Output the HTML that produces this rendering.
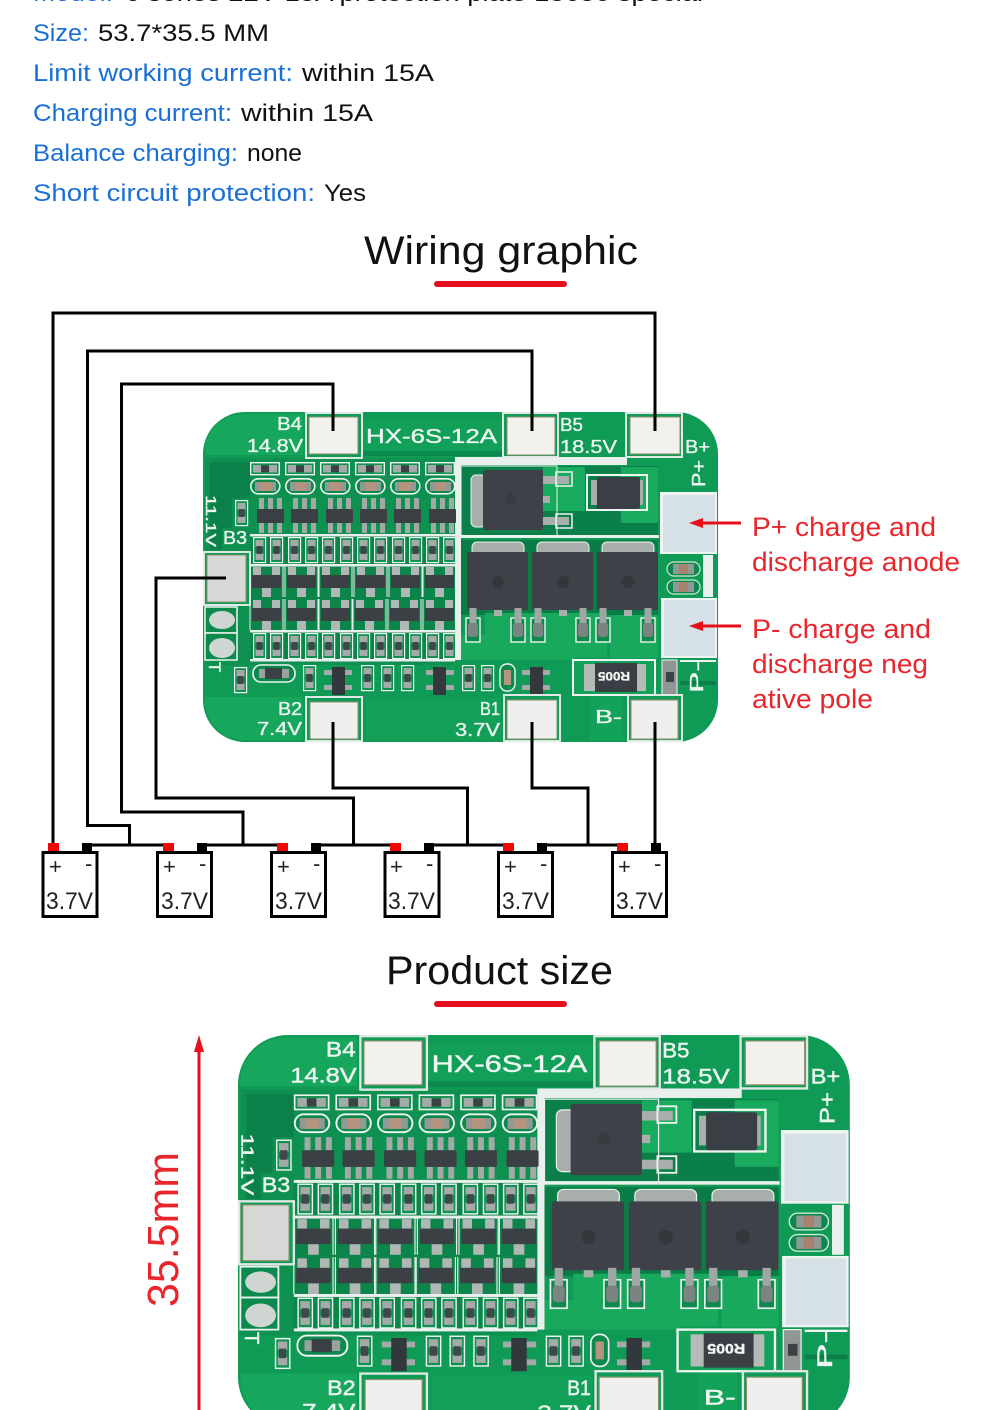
<!DOCTYPE html>
<html><head><meta charset="utf-8"><style>
html,body{margin:0;padding:0;background:#fff}
svg{display:block}
.t{font-family:"Liberation Sans",sans-serif}
.l{font-family:"Liberation Sans",sans-serif;font-size:24px}
.b{fill:#1a6fd6}.k{fill:#111}
.r{font-family:"Liberation Sans",sans-serif;font-size:27px;fill:#e8262c}
.p{font-family:"Liberation Sans",sans-serif;fill:#eef6f1;font-size:18px;stroke:#eef6f1;stroke-width:.35px}
.v{font-family:"Liberation Sans",sans-serif;font-size:24px;fill:#222}
</style></head><body>
<svg width="1000" height="1410" viewBox="0 0 1000 1410" xmlns="http://www.w3.org/2000/svg">
<defs>
<g id="c1"><rect x="0.7" y="0.7" width="28.6" height="12" fill="#0e9150" stroke="#eef4f0" stroke-width="1.4"/><rect x="3" y="3" width="8" height="7.5" fill="#a4aaa8"/><rect x="19" y="3" width="8" height="7.5" fill="#a4aaa8"/><rect x="11" y="3.5" width="8" height="6.5" fill="#3c4144"/></g>
<g id="c2"><rect x="0.8" y="0.8" width="29" height="15" rx="7.5" fill="#0c8a4e" stroke="#eef4f0" stroke-width="1.6"/><rect x="5" y="4" width="21" height="9" fill="#8f9a96"/><rect x="10" y="4" width="11" height="9" fill="#b4947f"/></g>
<g id="c3"><g fill="#a2a9a7"><rect x="2" y="0" width="5" height="11"/><rect x="11" y="0" width="5" height="11"/><rect x="20" y="0" width="5" height="11"/><rect x="2" y="25" width="5" height="10"/><rect x="11" y="25" width="5" height="10"/><rect x="20" y="25" width="5" height="10"/></g><rect x="0" y="11" width="27" height="14" rx="1" fill="#3b4045"/></g>
<g id="c5"><g fill="#b1b7b5"><rect x="1" y="0" width="8" height="8"/><rect x="20" y="0" width="8" height="8"/><rect x="10" y="21" width="9" height="9"/></g><rect x="0" y="8" width="29" height="13" rx="1" fill="#3b4045"/><path d="M-2 -1V30M31 -1V30" stroke="#e8f0ec" stroke-width="1" fill="none"/></g>
<g id="rv"><rect x="0.6" y="0.6" width="12" height="25" fill="#0e9150" stroke="#eef4f0" stroke-width="1.2"/><rect x="2.5" y="3" width="8" height="7" fill="#a4aaa8"/><rect x="2.5" y="16" width="8" height="7" fill="#a4aaa8"/><rect x="3.5" y="9" width="6" height="8" fill="#40464a"/></g>
<g id="r12"><use href="#rv" x="253"/><use href="#rv" x="270"/><use href="#rv" x="288"/><use href="#rv" x="305"/><use href="#rv" x="322"/><use href="#rv" x="340"/><use href="#rv" x="357"/><use href="#rv" x="374"/><use href="#rv" x="392"/><use href="#rv" x="409"/><use href="#rv" x="426"/><use href="#rv" x="443"/></g>
<g id="mos"><rect x="5" y="-10" width="52" height="14" rx="5" fill="#a8aeac" stroke="#eaf0ec" stroke-width="1"/><rect x="0" y="0" width="61" height="58" rx="2" fill="#3e4248"/><circle cx="31" cy="30" r="6" fill="#33373c"/><rect x="27" y="58" width="8" height="6" fill="#a8aeac"/></g>
<g id="lead"><rect x="-7" y="10" width="14" height="24" fill="#0c8a4e" stroke="#eef4f0" stroke-width="1.4"/><rect x="-3.500" y="0" width="7" height="26" fill="#a0a6a4"/><rect x="-5" y="15" width="10" height="14" rx="3" fill="#7c8481"/></g>
<g id="art">
<rect x="203" y="412" width="515" height="330" rx="42" fill="#0f9a55"/>
<path d="M205 455V452C205 428 225 414 245 414H303V455Z" fill="#17a75c"/>
<path d="M205 697H303V740H245C225 740 205 725 205 700Z" fill="#17a75c"/>
<rect x="205" y="458" width="250" height="207" fill="#0e9150"/>
<path d="M210 462H250V498H232V528H222V550H210Z" fill="#0b8048"/>
<rect x="250" y="536" width="205" height="125" fill="#0b8549"/>
<rect x="460" y="466" width="198" height="72" fill="#0b7f49"/>
<rect x="543" y="467" width="42" height="44" fill="#19ab5d"/>
<rect x="621" y="467" width="37" height="56" fill="#19ab5d"/>
<rect x="460" y="540" width="198" height="75" fill="#0a7d47"/>
<path d="M485 613H607V657H575V660H460V635H485Z" fill="#18a95c"/>
<path d="M610 615H658V658H610Z" fill="#18a95c"/>
<rect x="366" y="698" width="135" height="42" fill="#12a058"/>
<rect x="360" y="420" width="142" height="30" fill="#12a058"/>
<rect x="360" y="451" width="142" height="5" fill="#0c8a4e"/>
<rect x="590" y="695" width="33" height="45" fill="#13a259"/>
<g fill="#e9efec">
<rect x="455" y="457" width="172" height="8"/>
<rect x="455" y="457" width="6" height="203"/>
<rect x="461" y="535" width="198" height="3"/>
<rect x="250" y="534" width="205" height="2.500"/>
<rect x="250" y="564" width="205" height="2.500"/>
<rect x="250" y="630" width="205" height="2.500"/>
<rect x="250" y="659" width="205" height="2.500"/>
</g>
<use href="#c1" x="250" y="462"/><use href="#c1" x="285" y="462"/><use href="#c1" x="320" y="462"/><use href="#c1" x="355" y="462"/><use href="#c1" x="390" y="462"/><use href="#c1" x="425" y="462"/>
<use href="#c2" x="250" y="478"/><use href="#c2" x="285" y="478"/><use href="#c2" x="320" y="478"/><use href="#c2" x="355" y="478"/><use href="#c2" x="390" y="478"/><use href="#c2" x="425" y="478"/>
<use href="#c3" x="257" y="498"/><use href="#c3" x="291" y="498"/><use href="#c3" x="326" y="498"/><use href="#c3" x="360" y="498"/><use href="#c3" x="394" y="498"/><use href="#c3" x="429" y="498"/>
<use href="#rv" x="235" y="498" transform="translate(0 2)"/>
<use href="#r12" y="537"/><use href="#r12" y="633"/>
<use href="#c5" x="252" y="567"/><use href="#c5" x="287" y="567"/><use href="#c5" x="321" y="567"/><use href="#c5" x="356" y="567"/><use href="#c5" x="391" y="567"/><use href="#c5" x="425" y="567"/>
<use href="#c5" x="252" y="600"/><use href="#c5" x="287" y="600"/><use href="#c5" x="321" y="600"/><use href="#c5" x="355" y="600"/><use href="#c5" x="390" y="600"/><use href="#c5" x="425" y="600"/>
<rect x="205" y="607" width="32" height="26" fill="#0c8a4e" stroke="#eef4f0" stroke-width="1.5"/>
<rect x="205" y="633" width="32" height="27" fill="#0c8a4e" stroke="#eef4f0" stroke-width="1.5"/>
<ellipse cx="222" cy="620" rx="13" ry="9" fill="#cfd6d2"/>
<ellipse cx="222" cy="648" rx="13" ry="10" fill="#cfd6d2"/>
<use href="#rv" x="234" y="665" transform="translate(0 2)"/>
<rect x="253" y="665" width="42" height="17" rx="8" fill="#0c8a4e" stroke="#eef4f0" stroke-width="1.6"/>
<rect x="259" y="669" width="30" height="9" fill="#9aa19f"/><rect x="265" y="668" width="17" height="11" fill="#3b4045"/>
<use href="#rv" x="303" y="665"/><use href="#rv" x="361" y="665"/><use href="#rv" x="381" y="665"/><use href="#rv" x="401" y="665"/><use href="#rv" x="462" y="665"/><use href="#rv" x="481" y="665"/>
<rect x="500" y="664" width="15" height="27" rx="7" fill="#0c8a4e" stroke="#eef4f0" stroke-width="1.4"/><rect x="504" y="670" width="7" height="15" fill="#b4947f"/>
<g fill="#a4aaa8"><rect x="324" y="670" width="28" height="5"/><rect x="324" y="685" width="28" height="5"/><rect x="426" y="670" width="28" height="5"/><rect x="426" y="685" width="28" height="5"/><rect x="522" y="670" width="28" height="5"/><rect x="522" y="685" width="28" height="5"/></g>
<g fill="#33383d"><rect x="332" y="667" width="13" height="28"/><rect x="433" y="667" width="13" height="28"/><rect x="530" y="667" width="13" height="28"/></g>
<rect x="461" y="466" width="96" height="70" fill="none" stroke="#eef4f0" stroke-width="1"/>
<rect x="471" y="475" width="16" height="52" rx="5" fill="#a8aeac" stroke="#eaf0ec"/>
<rect x="542" y="476" width="27" height="8" fill="#a8aeac"/><rect x="542" y="517" width="27" height="8" fill="#a8aeac"/><rect x="542" y="496" width="8" height="7" fill="#a8aeac"/>
<rect x="556" y="472" width="16" height="14" fill="none" stroke="#eef4f0" stroke-width="1.5"/><rect x="556" y="514" width="16" height="14" fill="none" stroke="#eef4f0" stroke-width="1.5"/>
<rect x="483" y="470" width="60" height="60" rx="2" fill="#3e4248"/><circle cx="511" cy="499" r="5.500" fill="#383c41"/>
<rect x="587" y="475" width="60" height="35" fill="none" stroke="#eef4f0" stroke-width="2"/>
<rect x="591" y="480" width="8" height="25" fill="#a8aeac"/><rect x="635" y="480" width="8" height="25" fill="#a8aeac"/>
<rect x="597" y="477" width="43" height="32" rx="2" fill="#3a3e45"/>
<use href="#mos" x="467" y="552"/><use href="#mos" x="532" y="552"/><use href="#mos" x="597" y="552"/>
<use href="#lead" x="473" y="608"/><use href="#lead" x="518" y="608"/><use href="#lead" x="538" y="608"/><use href="#lead" x="583" y="608"/><use href="#lead" x="603" y="608"/><use href="#lead" x="648" y="608"/>
<rect x="703" y="555" width="10" height="42" fill="#e9efec"/>
<rect x="667" y="562" width="33" height="14" rx="7" fill="#0c8a4e" stroke="#cfe6d8" stroke-width="1.2"/><rect x="673" y="564" width="21" height="10" fill="#8f9a96"/><rect x="679" y="564" width="9" height="10" fill="#a8826e"/>
<rect x="667" y="580" width="33" height="14" rx="7" fill="#0c8a4e" stroke="#cfe6d8" stroke-width="1.2"/><rect x="673" y="582" width="21" height="10" fill="#8f9a96"/><rect x="679" y="582" width="9" height="10" fill="#a8826e"/>
<rect x="573" y="660" width="82" height="35" fill="#14a159" stroke="#eef4f0" stroke-width="2"/>
<rect x="584" y="664" width="62" height="27" fill="#b6bbb8"/>
<rect x="595" y="663" width="42" height="29" fill="#3a3e45"/>
<rect x="662" y="660" width="15" height="35" fill="#8f9693" stroke="#eef4f0"/><rect x="666" y="672" width="8" height="10" fill="#3c4144"/>
<rect x="680" y="660" width="36" height="2" fill="#eef4f0"/><rect x="680" y="681" width="36" height="4" fill="#0b7f49"/>
<g stroke="#dfe8e3" stroke-width="2" fill="#0f9a55">
<rect x="306" y="413" width="56" height="45"/><rect x="503" y="413" width="55" height="44"/><rect x="626" y="413" width="56" height="44"/>
<rect x="204" y="552" width="46" height="53"/><rect x="306" y="697" width="56" height="44"/><rect x="504" y="695" width="56" height="46"/><rect x="628" y="695" width="54" height="46"/>
</g>
<g stroke="#89906a" stroke-width="1">
<rect x="309" y="417" width="49" height="37" fill="#f3f1ee"/><rect x="507" y="417" width="48" height="38" fill="#f3f1ee"/><rect x="630" y="417" width="50" height="37" fill="#f3f1ee"/>
<rect x="207" y="555" width="39" height="47" fill="#d8d8d6"/><rect x="310" y="702" width="48" height="37" fill="#f1efed"/><rect x="507" y="700" width="50" height="39" fill="#f1efed"/><rect x="631" y="700" width="47" height="39" fill="#f1efed"/>
</g>
<rect x="660" y="492" width="57" height="62" fill="#eef4f0"/><rect x="663" y="495" width="52" height="57" fill="#d6e0e7"/>
<rect x="661" y="598" width="56" height="60" fill="#eef4f0"/><rect x="664" y="600" width="51" height="56" fill="#d6e0e7"/>
</g>
</defs>

<text class="l b" x="33" y="1" textLength="80" lengthAdjust="spacingAndGlyphs">Model:</text>
<text class="l k" x="125" y="1" textLength="578" lengthAdjust="spacingAndGlyphs">6 series 22V 15A protection plate 18650 special</text>
<text class="l b" x="33" y="41" textLength="56" lengthAdjust="spacingAndGlyphs">Size:</text><text class="l k" x="98" y="41" textLength="171" lengthAdjust="spacingAndGlyphs">53.7*35.5 MM</text>
<text class="l b" x="33" y="81" textLength="260" lengthAdjust="spacingAndGlyphs">Limit working current:</text><text class="l k" x="302" y="81" textLength="132" lengthAdjust="spacingAndGlyphs">within 15A</text>
<text class="l b" x="33" y="121" textLength="199" lengthAdjust="spacingAndGlyphs">Charging current:</text><text class="l k" x="241" y="121" textLength="132" lengthAdjust="spacingAndGlyphs">within 15A</text>
<text class="l b" x="33" y="161" textLength="205" lengthAdjust="spacingAndGlyphs">Balance charging:</text><text class="l k" x="247" y="161" textLength="55" lengthAdjust="spacingAndGlyphs">none</text>
<text class="l b" x="33" y="201" textLength="282" lengthAdjust="spacingAndGlyphs">Short circuit protection:</text><text class="l k" x="324" y="201" textLength="42" lengthAdjust="spacingAndGlyphs">Yes</text>

<text class="t" x="364" y="264" font-size="40" fill="#111" textLength="274" lengthAdjust="spacingAndGlyphs">Wiring graphic</text>
<rect x="434" y="281" width="133" height="6" rx="3" fill="#e60f1e"/>
<text class="t" x="386" y="984" font-size="40" fill="#111" textLength="227" lengthAdjust="spacingAndGlyphs">Product size</text>
<rect x="434" y="1001" width="133" height="6" rx="3" fill="#e60f1e"/>

<use href="#art"/>
<g>
<text class="p" x="277" y="430" textLength="25" lengthAdjust="spacingAndGlyphs">B4</text>
<text class="p" x="247" y="452" textLength="56" lengthAdjust="spacingAndGlyphs">14.8V</text>
<text class="p" x="366" y="443" style="font-size:20px" textLength="131" lengthAdjust="spacingAndGlyphs">HX-6S-12A</text>
<text class="p" x="560" y="431" textLength="23" lengthAdjust="spacingAndGlyphs">B5</text>
<text class="p" x="560" y="453" textLength="57" lengthAdjust="spacingAndGlyphs">18.5V</text>
<text class="p" x="685" y="453" textLength="25" lengthAdjust="spacingAndGlyphs">B+</text>
<text class="p" transform="translate(705 487) rotate(-90)" textLength="27" lengthAdjust="spacingAndGlyphs">P+</text>
<text class="p" transform="translate(206 495) rotate(90)" style="font-size:15px" textLength="52" lengthAdjust="spacingAndGlyphs">11.1V</text>
<text class="p" x="223" y="544" textLength="24" lengthAdjust="spacingAndGlyphs">B3</text>
<text class="p" transform="translate(209 662) rotate(90)" style="font-size:17px">T</text>
<text class="p" x="278" y="715" textLength="24" lengthAdjust="spacingAndGlyphs">B2</text>
<text class="p" x="257" y="735" textLength="45" lengthAdjust="spacingAndGlyphs">7.4V</text>
<text class="p" x="480" y="715" textLength="20" lengthAdjust="spacingAndGlyphs">B1</text>
<text class="p" x="455" y="736" textLength="45" lengthAdjust="spacingAndGlyphs">3.7V</text>
<text class="p" x="595" y="723" textLength="27" lengthAdjust="spacingAndGlyphs">B-</text>
<text class="p" transform="translate(703 693) rotate(-90)" textLength="32" lengthAdjust="spacingAndGlyphs">P-</text>
<text class="p" transform="rotate(180 614 677)" x="598" y="682" style="font-size:12px;font-weight:bold" textLength="32" lengthAdjust="spacingAndGlyphs">R005</text>
</g>

<g fill="none" stroke="#000" stroke-width="3">
<path d="M655 431V313H53V845"/>
<path d="M532 431V351H87.500V825.500H129.500V845"/>
<path d="M333 431V384H121.500V812H243V845"/>
<path d="M226 578H156V798H353.500V845"/>
<path d="M333 722V788H467.500V845"/>
<path d="M532 722V788H588V845"/>
<path d="M655 722V845"/>
<path d="M92 845H163M207 845H277M321 845H390M434 845H503M547 845H617M651 845H661"/>
</g>
<g fill="#fff" stroke="#000" stroke-width="3">
<rect x="43" y="852.500" width="54" height="64"/><rect x="157.500" y="852.500" width="54" height="64"/><rect x="271.500" y="852.500" width="54" height="64"/><rect x="385" y="852.500" width="54" height="64"/><rect x="498.500" y="852.500" width="54" height="64"/><rect x="612.500" y="852.500" width="54" height="64"/>
</g>
<g fill="#f00806"><rect x="48" y="843" width="11" height="8"/><rect x="163" y="843" width="11" height="8"/><rect x="277" y="843" width="11" height="8"/><rect x="390" y="843" width="11" height="8"/><rect x="503" y="843" width="11" height="8"/><rect x="617" y="843" width="11" height="8"/></g>
<g fill="#000"><rect x="82" y="843" width="10" height="8"/><rect x="197" y="843" width="10" height="8"/><rect x="311" y="843" width="10" height="8"/><rect x="424" y="843" width="10" height="8"/><rect x="537" y="843" width="10" height="8"/><rect x="651" y="843" width="10" height="8"/></g>
<g class="t" font-size="22" fill="#222">
<text x="49" y="874">+</text><text x="85" y="871">-</text>
<text x="163" y="874">+</text><text x="199" y="871">-</text>
<text x="277" y="874">+</text><text x="313" y="871">-</text>
<text x="390" y="874">+</text><text x="426" y="871">-</text>
<text x="504" y="874">+</text><text x="540" y="871">-</text>
<text x="618" y="874">+</text><text x="654" y="871">-</text>
</g>
<text class="v" x="46" y="909" textLength="47" lengthAdjust="spacingAndGlyphs">3.7V</text>
<text class="v" x="161" y="909" textLength="47" lengthAdjust="spacingAndGlyphs">3.7V</text>
<text class="v" x="275" y="909" textLength="47" lengthAdjust="spacingAndGlyphs">3.7V</text>
<text class="v" x="388" y="909" textLength="47" lengthAdjust="spacingAndGlyphs">3.7V</text>
<text class="v" x="502" y="909" textLength="47" lengthAdjust="spacingAndGlyphs">3.7V</text>
<text class="v" x="616" y="909" textLength="47" lengthAdjust="spacingAndGlyphs">3.7V</text>

<g stroke="#e60f1e" stroke-width="3" fill="none"><path d="M700 523H741"/><path d="M700 626H741"/></g>
<g fill="#e60f1e"><path d="M689 523L703 518V528Z"/><path d="M689 626L703 621V631Z"/></g>
<text class="r" x="752" y="536" textLength="184" lengthAdjust="spacingAndGlyphs">P+ charge and</text>
<text class="r" x="752" y="571" textLength="208" lengthAdjust="spacingAndGlyphs">discharge anode</text>
<text class="r" x="752" y="638" textLength="179" lengthAdjust="spacingAndGlyphs">P- charge and</text>
<text class="r" x="752" y="673" textLength="176" lengthAdjust="spacingAndGlyphs">discharge neg</text>
<text class="r" x="752" y="708" textLength="121" lengthAdjust="spacingAndGlyphs">ative pole</text>

<g transform="translate(238 1035) scale(1.188) translate(-203 -412)">
<use href="#art"/>
<text class="p" x="277" y="430" textLength="25" lengthAdjust="spacingAndGlyphs">B4</text>
<text class="p" x="247" y="452" textLength="56" lengthAdjust="spacingAndGlyphs">14.8V</text>
<text class="p" x="366" y="443" style="font-size:20px" textLength="131" lengthAdjust="spacingAndGlyphs">HX-6S-12A</text>
<text class="p" x="560" y="431" textLength="23" lengthAdjust="spacingAndGlyphs">B5</text>
<text class="p" x="560" y="453" textLength="57" lengthAdjust="spacingAndGlyphs">18.5V</text>
<text class="p" x="685" y="453" textLength="25" lengthAdjust="spacingAndGlyphs">B+</text>
<text class="p" transform="translate(705 487) rotate(-90)" textLength="27" lengthAdjust="spacingAndGlyphs">P+</text>
<text class="p" transform="translate(206 495) rotate(90)" style="font-size:15px" textLength="52" lengthAdjust="spacingAndGlyphs">11.1V</text>
<text class="p" x="223" y="544" textLength="24" lengthAdjust="spacingAndGlyphs">B3</text>
<text class="p" transform="translate(209 662) rotate(90)" style="font-size:17px">T</text>
<text class="p" x="278" y="715" textLength="24" lengthAdjust="spacingAndGlyphs">B2</text>
<text class="p" x="257" y="735" textLength="45" lengthAdjust="spacingAndGlyphs">7.4V</text>
<text class="p" x="480" y="715" textLength="20" lengthAdjust="spacingAndGlyphs">B1</text>
<text class="p" x="455" y="736" textLength="45" lengthAdjust="spacingAndGlyphs">3.7V</text>
<text class="p" x="595" y="723" textLength="27" lengthAdjust="spacingAndGlyphs">B-</text>
<text class="p" transform="translate(703 693) rotate(-90)" textLength="32" lengthAdjust="spacingAndGlyphs">P-</text>
<text class="p" transform="rotate(180 614 677)" x="598" y="682" style="font-size:12px;font-weight:bold" textLength="32" lengthAdjust="spacingAndGlyphs">R005</text>
</g>

<path d="M199 1048V1410" stroke="#e60f1e" stroke-width="3" fill="none"/>
<path d="M199 1035L204 1052H194Z" fill="#e60f1e"/>
<text class="t" transform="translate(178 1307) rotate(-90)" font-size="44" fill="#e8262c" textLength="155" lengthAdjust="spacingAndGlyphs">35.5mm</text>
</svg>
</body></html>
